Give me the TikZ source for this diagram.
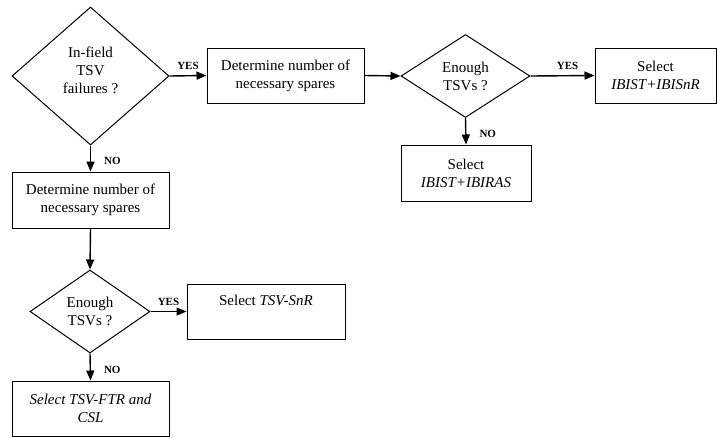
\documentclass[tikz,border=0pt]{standalone}
\usepackage{fontspec}
\setmainfont{Liberation Serif}
\usetikzlibrary{arrows.meta,positioning,shapes.geometric}
\tikzset{
  ar/.style={-{Triangle[length=10pt,width=8pt]},line width=1.4pt},
  box/.style={draw,line width=1pt,align=center,inner sep=2pt,minimum height=55pt,font=\fontsize{15}{18}\selectfont},
  dec/.style={diamond,draw,line width=1pt,align=center,inner sep=0pt,font=\fontsize{15}{18}\selectfont},
  yes/.style={midway,above,font=\fontsize{11}{13}\selectfont\bfseries,inner sep=2pt,yshift=3pt},
  no/.style={pos=0.6,right,font=\fontsize{11}{13}\selectfont\bfseries,inner sep=2pt,xshift=11pt}
}

\begin{document}
\begin{tikzpicture}[x=1pt,y=-1pt]
\useasboundingbox (0,0) rectangle (717,437);
% first question
\node[dec,minimum width=157pt,minimum height=138pt] (fail) at (90.5,76) {In-field\\TSV\\failures ?\rule[-12pt]{0pt}{1pt}};
\node[box,minimum width=157pt] (detA) at (285.5,75.5) {Determine number of\\necessary spares};
\node[dec,minimum width=129pt,minimum height=83pt] (enA) at (465.5,76) {Enough\\TSVs ?};
\node[box,minimum width=121pt] (selA) at (655.5,75.5) {Select\\\textit{IBIST+IBISnR}};
\node[box,minimum width=130pt,minimum height=56pt] (selB) at (466,173) {Select\\\textit{IBIST+IBIRAS}};
% left branch
\node[box,minimum width=157pt,minimum height=56pt] (detB) at (90.5,200) {Determine number of\\necessary spares};
\node[dec,minimum width=120pt,minimum height=83pt] (enB) at (90,311.5) {Enough\\TSVs ?};
\node[box,minimum width=158pt] (selC) at (266,311.5) {Select \textit{TSV-SnR}\\\strut};
\node[box,minimum width=157pt] (selD) at (90.5,408.5) {\textit{Select TSV-FTR and}\\\textit{CSL}};

\draw[ar] (fail.east) -- (detA.west) node[yes]{YES};
\draw[ar] (detA.east) -- (enA.west);
\draw[ar] (enA.east) -- (selA.west) node[yes,pos=0.58]{YES};
\draw[ar] (enA.south) -- (selB.north) node[no]{NO};
\draw[ar] (fail.south) -- (detB.north) node[no]{NO};
\draw[ar] (detB.south) -- (enB.north);
\draw[ar] (enB.east) -- (selC.west) node[yes]{YES};
\draw[ar] (enB.south) -- (selD.north) node[no]{NO};
\end{tikzpicture}
\end{document}
